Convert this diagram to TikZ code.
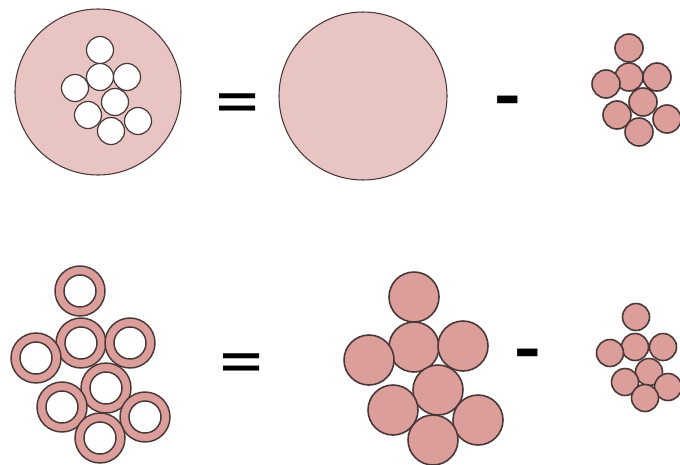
\documentclass[tikz,border=0pt]{standalone}
\usepackage{fontspec}
\setmainfont{Liberation Sans}
\definecolor{lightpink}{HTML}{E8C4C2}
\definecolor{darkpink}{HTML}{DB9E9A}
\definecolor{edge}{HTML}{4A3838}
\begin{document}
\begin{tikzpicture}[x=0.75pt,y=-0.75pt,
  bigdisc/.style={fill=lightpink,draw=edge,line width=0.8pt},
  hole/.style={fill=white,draw=edge,line width=0.9pt},
  ball/.style={fill=darkpink,draw=edge,line width=1.2pt},
  ringstyle/.style={fill=darkpink,draw=edge,line width=1.1pt,even odd rule},
  sign/.style={font=\bfseries\fontsize{60}{60}\selectfont,inner sep=0pt,transform shape},
  eqsign/.style={sign,xscale=0.9,yscale=0.57},
  minsign/.style={sign,yscale=0.8}]
\useasboundingbox (0,0) rectangle (680,464);
% top row
\draw[bigdisc] (98,92) circle (83);
\foreach \p in {(100,50),(100,77),(75,88),(127,77),(115,102),(88,115),(138,121),(111,131)}
  \draw[hole] \p circle (13.5);
\node[eqsign] (eq1) at (237.5,105.5) {=};
\draw[bigdisc] (363,96) circle (84);
\node[minsign] (mi1) at (507.5,106) {-};
\foreach \p in {(629,48),(629,77),(606,84),(657,77),(643,102),(617,115),(667,119),(639,132)}
  \draw[ball] \p circle (14);
% bottom row
\foreach \p in {(80,291),(81,343),(36,358),(130,343),(106,388),(62,407),(145,417),(100,438)}
  \draw[ringstyle] \p circle (25) \p circle (16);
\node[eqsign] (eq2) at (242,366) {=};
\foreach \p in {(414,297),(414,347),(369,360),(463,346),(438,390),(393,410),(478,420),(433,440)}
  \draw[ball] \p circle (25);
\node[minsign] (mi2) at (528,359.5) {-};
\foreach \p in {(636,317),(635,347),(610,353),(663,347),(649,372),(625,382),(668,387),(645,398)}
  \draw[ball] \p circle (13.5);
\end{tikzpicture}
\end{document}
